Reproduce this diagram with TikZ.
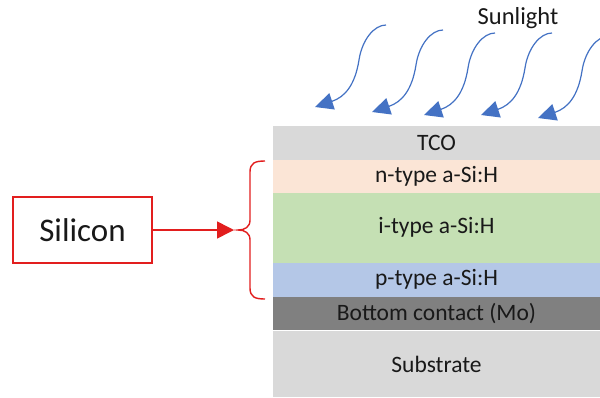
\documentclass[tikz,border=0pt]{standalone}
\usepackage{fontspec}
\setmainfont{Carlito}
\usetikzlibrary{arrows.meta}
\definecolor{sunblue}{RGB}{68,114,196}
\definecolor{brred}{RGB}{226,30,30}
\definecolor{tcogray}{RGB}{217,217,217}
\definecolor{npeach}{RGB}{251,229,214}
\definecolor{igreen}{RGB}{197,224,180}
\definecolor{pblue}{RGB}{180,199,231}
\definecolor{mogray}{RGB}{128,128,128}
\begin{document}
\begin{tikzpicture}[x=1pt,y=-1pt,
  layer/.style={rectangle,draw=none,inner sep=0pt,minimum width=327pt,
    font=\fontsize{23.5}{28}\selectfont,text=black!90},
  ray/.style={draw=sunblue,line width=1.2pt,
    -{Triangle[length=18pt,width=17pt]}},
  redline/.style={draw=brred,line width=1.6pt}]
\useasboundingbox (0,0) rectangle (600,397);
\clip (0,0) rectangle (600,397);
\fill[white] (0,0) rectangle (600,397);

% layer stack
\node[layer,fill=tcogray,minimum height=34pt] (tco) at (436.5,143) {TCO};
\node[layer,fill=npeach,minimum height=33pt] (nlay) at (436.5,176.5) {n-type a-Si:H};
\node[layer,fill=igreen,minimum height=69.5pt] (ilay) at (436.5,227.75) {i-type a-Si:H};
\node[layer,fill=pblue,minimum height=34pt] (play) at (436.5,279.5) {p-type a-Si:H};
\node[layer,fill=mogray,minimum height=33.5pt] (mo) at (436.5,313.25) {Bottom contact (Mo)};
\node[layer,fill=tcogray,minimum height=66pt] (sub) at (436.5,364) {Substrate};

% sunlight
\node[font=\fontsize{24.5}{29}\selectfont,text=black!90] (sun) at (518,18) {Sunlight};
\foreach \sx/\sy [count=\k] in {386/25,443/30,495/33,552/33,609/36}{
  \coordinate (s\k) at (\sx,\sy);
  \coordinate (t\k) at (\sx-71,\sy+82);
  \draw[ray] (s\k) .. controls +(-12,0) and +(3,-20) .. ([shift={(-27,35)}]s\k)
    .. controls +(-4,25) and +(30,-10) .. (t\k);
}

% silicon label, arrow and brace
\node[draw=brred,line width=1.8pt,minimum width=139pt,minimum height=66pt,
  font=\fontsize{33}{38}\selectfont,text=black!90] (sil) at (82.5,230) {Silicon};
\coordinate (btip) at (238,230);
\draw[redline,-{Triangle[length=17pt,width=17pt]},shorten >=4pt] (sil.east) -- (btip);
\draw[redline,line width=1.4pt] (265,161) .. controls (255,161) and (250,163) .. (250,172)
  -- (250,220) .. controls (250,227) and (245,230) .. (btip)
  .. controls (245,230) and (250,233) .. (250,240)
  -- (250,288) .. controls (250,297) and (255,299) .. (265,299);
\end{tikzpicture}
\end{document}
